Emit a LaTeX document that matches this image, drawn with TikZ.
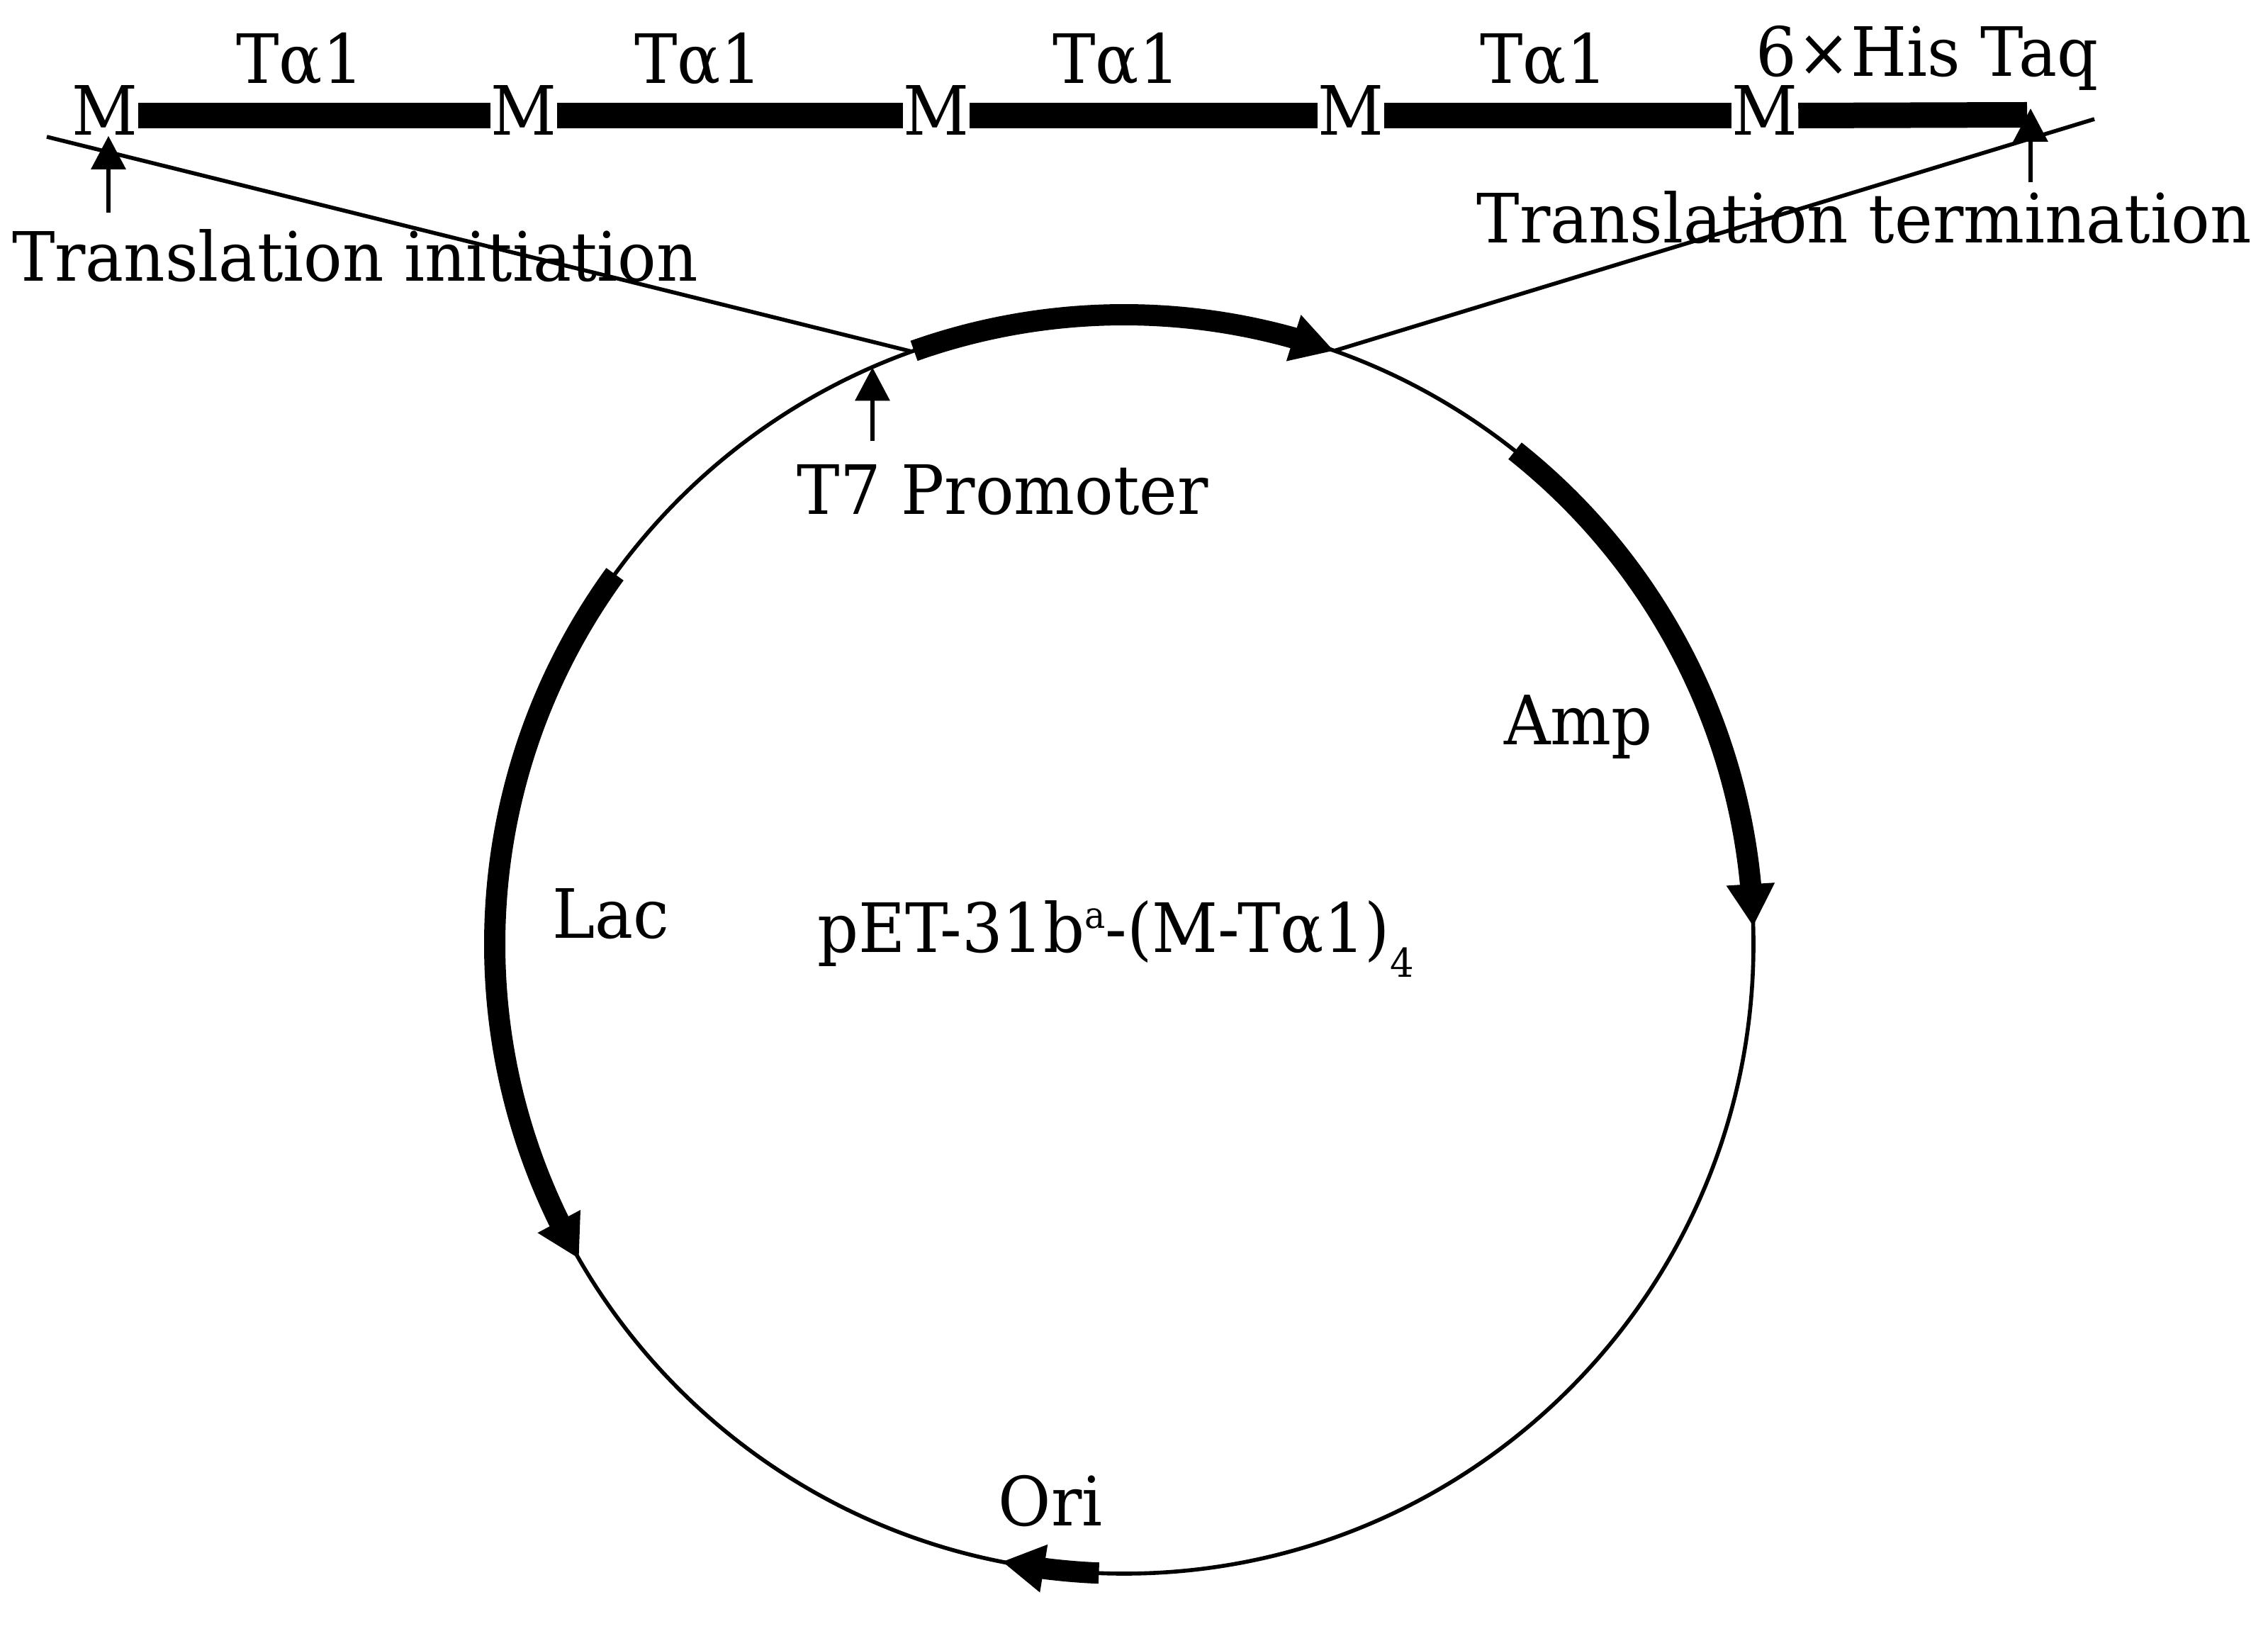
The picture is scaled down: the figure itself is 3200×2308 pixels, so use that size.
\documentclass[tikz,border=0pt]{standalone}
\usepackage{fontspec}
\setmainfont{DejaVu Serif}[FakeStretch=0.945]
\usetikzlibrary{arrows.meta,bending}
\begin{document}
\begin{tikzpicture}[x=0.25pt,y=0.25pt,
  lbl/.style={font=\fontsize{24}{28}\selectfont, inner sep=0pt, anchor=base},
  thinline/.style={line width=1.4pt},
  barline/.style={line width=9pt},
  ptr/.style={line width=1.6pt,-{Triangle[length=11.75pt,width=12pt]}},
  gene/.style={line width=7.5pt,-{Triangle[length=15pt,width=16pt,flex]}},
]
\fill[white] (0,0) rectangle (3200,-2308);

% plasmid circle
\node[draw, circle, thinline, minimum size=444pt, inner sep=0pt] (P) at (1586,-1332) {};

% gene arcs
\draw[gene] ([shift={(109.5:222pt)}]P.center) arc[start angle=109.5, end angle=70.5, radius=222pt];
\draw[gene] ([shift={(51.6:222pt)}]P.center) arc[start angle=51.6, end angle=1.6, radius=222pt];
\draw[gene] ([shift={(144:222pt)}]P.center) arc[start angle=144, end angle=210, radius=222pt];
\draw[gene] ([shift={(267.7:222pt)}]P.center) arc[start angle=267.7, end angle=258.8, radius=222pt];

% points on the circle
\coordinate (t7pt) at ([shift={(113.6:222pt)}]P.center);
\coordinate (lpt) at ([shift={(109.7:222pt)}]P.center);
\coordinate (rpt) at ([shift={(70.5:222pt)}]P.center);

% top construct
\foreach \i/\x in {1/148,2/739,3/1321,4/1906,5/2490}
  \node[lbl] (m\i) at (\x,-191) {M};
\draw[barline] ([yshift=-1.75pt]m1.east) -- ([yshift=-1.75pt]m2.west);
\draw[barline] ([yshift=-1.75pt]m2.east) -- ([yshift=-1.75pt]m3.west);
\draw[barline] ([yshift=-1.75pt]m3.east) -- ([yshift=-1.75pt]m4.west);
\draw[barline] ([yshift=-1.75pt]m4.east) -- ([yshift=-1.75pt]m5.west);
\coordinate (barend) at (2860,-162);
\draw[barline] ([yshift=-1.75pt]m5.east) -- (barend);

\node[lbl] (ta1) at (423,-118) {Tα1};
\node[lbl] (ta2) at (985,-118) {Tα1};
\node[lbl] (ta3) at (1575,-118) {Tα1};
\node[lbl] (ta4) at (2178,-118) {Tα1};
\node[lbl] (his) at (2719,-108) {6×His Taq};

\node[lbl] (init) at (501,-397) {Translation initiation};
\node[lbl] (term) at (2630,-343) {Translation termination};
\coordinate (initTail) at (153,-300);
\draw[ptr] (initTail) -- (initTail |- m1.south);
\coordinate (termTail) at (2865,-257);
\coordinate (termTip) at (2865,-153);
\draw[ptr] (termTail) -- (termTip);

% diagonal lines
\coordinate (lfar) at (66,-193);
\coordinate (rfar) at (2955,-168);
\draw[thinline] (lfar) -- (lpt);
\draw[thinline] (rpt) -- (rfar);

% T7 promoter
\node[lbl] (t7) at (1415,-726) {T7 Promoter};
\coordinate (t7tail) at (1231,-622);
\draw[ptr] (t7tail) -- (t7tail |- t7pt);

% gene labels
\node[lbl] (amp) at (2227,-1050) {Amp};
\node[lbl] (lac) at (862,-1323) {Lac};
\node[lbl] (ori) at (1482,-2152) {Ori};
\node[lbl] (name) at (1574,-1343) {pET-31b\raisebox{8.5pt}{\fontsize{13}{15}\selectfont a}-(M-Tα1)\raisebox{-8.75pt}{\fontsize{14}{16}\selectfont 4}};
\end{tikzpicture}
\end{document}
